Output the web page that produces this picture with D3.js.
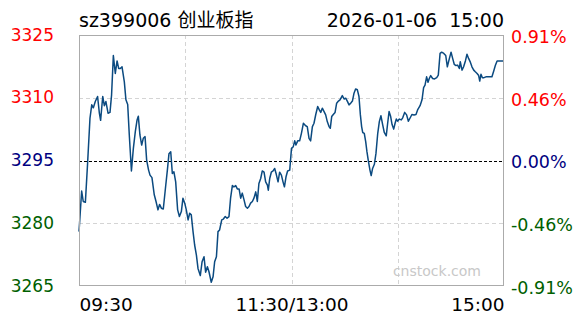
<!DOCTYPE html>
<html>
<head>
<meta charset="utf-8">
<script src="https://cdn.jsdelivr.net/npm/d3@7"></script>
<style>
    html, body { margin: 0; padding: 0; background: #fff; }
    #chart { width: 588px; height: 324px; }
</style>
</head>
<body>
<div id="chart"></div>
<script>
// Intraday chart - sz399006 创业板指, 2026-01-06

const title = 'sz399006 创业板指';
const dateLabel = '2026-01-06  15:00';
const prevClose = 3295;

// minutes since 09:30 (lunch break removed, 0..240) and index level
const minutes = [
    0, 1.5, 2.4, 3.6, 4.9, 6.2, 7.2, 8.1, 9.2, 10.5, 11.5, 12.2, 13.4, 14.3, 15.2, 16.4,
    17.5, 18.4, 19.4, 20.5, 21.5, 22.4, 23.3, 24.3, 25.6, 26.5, 27.5, 28.4, 29.6, 30.7,
    31.8, 32.8, 33.5, 34.4, 35.4, 36.3, 37.3, 38.2, 39.3, 40.1, 41.2, 42.5, 43.5, 44.6,
    45.5, 46.5, 47.6, 48.8, 49.9, 50.8, 51.8, 52.7, 53.6, 54.6, 55.7, 56.7, 57.8, 58.7,
    59.7, 60.6, 61.6, 62.5, 63.4, 64.4, 65.3, 66.3, 67.2, 68.5, 69.5, 70.6, 71.5, 72.5,
    73.4, 74.7, 75.7, 76.6, 77.6, 78.5, 79.4, 80.6, 81.5, 82.6, 83.6, 84.7, 85.6, 86.6,
    87.5, 88.5, 89.4, 90.4, 91.3, 92.2, 93.2, 94.1, 95.1, 96.0, 96.9, 97.9, 98.8, 99.8,
    100.7, 101.6, 102.6, 103.5, 104.5, 105.4, 106.4, 106.9, 107.7, 108.6, 109.6, 110.5,
    111.4, 112.4, 113.3, 114.3, 115.2, 116.0, 116.9, 117.8, 119.0, 120.0, 121.0, 121.8,
    122.5, 123.5, 124.6, 125.6, 126.7, 128.0, 128.9, 129.9, 130.8, 131.8, 132.7, 133.7,
    134.8, 135.7, 136.5, 137.4, 138.4, 139.3, 140.2, 141.2, 141.9, 142.7, 143.6, 144.6,
    145.5, 146.5, 147.4, 148.7, 149.7, 150.6, 151.5, 152.5, 153.4, 154.4, 155.3, 156.2,
    157.2, 158.1, 158.9, 159.6, 160.2, 161.1, 161.9, 162.6, 163.4, 164.3, 165.0, 165.8,
    166.8, 167.7, 168.7, 169.6, 170.5, 171.5, 172.4, 173.5, 174.3, 175.1, 176.0, 176.8,
    177.7, 178.5, 179.2, 179.9, 180.9, 182.0, 182.8, 183.9, 185.0, 186.0, 186.9, 188.0,
    189.2, 190.3, 191.2, 192.6, 193.7, 194.6, 195.4, 196.3, 197.1, 197.8, 198.6, 199.7,
    200.8, 202.0, 202.9, 203.9, 204.8, 206.0, 207.1, 208.0, 209.1, 210.1, 211.0, 211.9,
    212.9, 213.8, 214.8, 215.3, 216.3, 217.2, 218.2, 219.1, 220.0, 221.0, 221.9, 222.9,
    223.8, 224.8, 225.7, 226.3, 227.0, 227.8, 228.7, 229.8, 233.2, 234.2, 235.1, 236.1,
    237.4, 240
];
const prices = [
    3278.0, 3287.7, 3285.2, 3285.0, 3294.7, 3305.1, 3308.3, 3307.6, 3309.1, 3310.3, 3306.3, 3304.6, 3310.3, 3308.1, 3309.1, 3306.3,
    3306.5, 3310.7, 3320.1, 3315.8, 3318.8, 3317.0, 3317.0, 3317.4, 3313.8, 3309.5, 3308.4, 3301.1, 3292.5, 3297.9,
    3301.9, 3304.7, 3305.6, 3301.1, 3298.7, 3300.3, 3300.7, 3295.1, 3292.7, 3291.5, 3290.9, 3286.8, 3285.2, 3283.2,
    3284.5, 3283.6, 3283.4, 3288.3, 3292.7, 3296.6, 3297.1, 3291.9, 3292.3, 3289.9, 3283.2, 3281.6, 3282.8, 3286.0,
    3284.8, 3283.2, 3280.8, 3282.4, 3282.0, 3278.0, 3274.8, 3272.4, 3269.2, 3267.5, 3270.8, 3272.0, 3268.3, 3269.6,
    3268.4, 3265.9, 3267.2, 3270.8, 3272.0, 3278.0, 3278.4, 3280.8, 3281.0, 3281.6, 3281.2, 3281.6, 3286.0, 3289.0,
    3288.7, 3289.0, 3288.2, 3288.2, 3286.0, 3287.2, 3285.6, 3284.0, 3283.6, 3284.0, 3284.8, 3285.2, 3286.0, 3287.5,
    3285.2, 3289.5, 3290.7, 3292.5, 3292.2, 3289.9, 3289.1, 3287.9, 3290.7, 3292.2, 3292.5, 3293.1,
    3291.7, 3289.9, 3292.2, 3291.5, 3289.9, 3288.7, 3291.1, 3292.5, 3292.7, 3297.9, 3298.3, 3299.7,
    3298.7, 3299.7, 3299.7, 3301.5, 3303.9, 3303.3, 3303.1, 3300.3, 3299.7, 3303.1, 3303.9, 3306.0,
    3307.9, 3307.1, 3306.5, 3307.5, 3306.7, 3305.9, 3304.3, 3303.1, 3302.7, 3305.5, 3306.0, 3306.5,
    3308.7, 3309.2, 3309.5, 3310.5, 3309.7, 3309.9, 3309.2, 3308.3, 3308.7, 3309.2, 3311.1, 3312.1,
    3311.9, 3310.3, 3305.9, 3303.1, 3301.7, 3301.5, 3299.5, 3297.1, 3294.9, 3292.7, 3291.4, 3293.1,
    3294.1, 3296.7, 3301.5, 3304.3, 3305.7, 3303.5, 3301.7, 3300.9, 3303.9, 3306.7, 3305.5, 3303.6,
    3302.5, 3303.9, 3304.9, 3304.4, 3304.9, 3304.7, 3305.2, 3306.5, 3305.9, 3304.4, 3305.1, 3306.0,
    3305.9, 3306.0, 3307.1, 3308.1, 3309.5, 3312.4, 3313.0, 3315.0, 3313.7, 3314.6, 3315.3, 3314.6,
    3314.5, 3314.8, 3315.4, 3320.6, 3320.9, 3320.6, 3320.1, 3317.4, 3319.3, 3320.9, 3319.4, 3318.0,
    3317.7, 3317.8, 3317.0, 3318.6, 3316.6, 3317.4, 3318.8, 3320.4, 3319.4, 3318.5, 3317.4, 3316.6,
    3316.2, 3315.8, 3315.3, 3314.0, 3315.6, 3314.8, 3314.8, 3315.0, 3315.0, 3316.4, 3317.7, 3318.8,
    3318.8, 3318.8
];

// axis ticks
const priceTicks = [3265, 3280, 3295, 3310, 3325];
const pctLabels = ['-0.91%', '-0.46%', '0.00%', '0.46%', '0.91%'];
const timeTicks = [0, 60, 120, 180, 240];
const timeLabels = ['09:30', '', '11:30/13:00', '', '15:00'];

function tickColor(p) {
    if (p > prevClose) return '#ff0000';
    if (p < prevClose) return '#006000';
    return '#000080';
}

const W = 588, H = 324;
const margin = {top: 35, right: 84, bottom: 38, left: 79};
const width = W - margin.left - margin.right;
const height = H - margin.top - margin.bottom;
const font = '"DejaVu Sans", Verdana, "Noto Sans CJK SC", sans-serif';

const svg = d3.select('#chart').append('svg')
    .attr('width', W)
    .attr('height', H)
    .style('font-family', font);

const g = svg.append('g')
    .attr('transform', `translate(${margin.left},${margin.top})`);

const x = d3.scaleLinear().domain([0, 240]).range([0, width]);
const y = d3.scaleLinear().domain([3265, 3325]).range([height, 0]);

// Horizontal grid
g.append('g')
    .selectAll('line')
    .data(priceTicks.filter(p => p !== prevClose && p !== 3265 && p !== 3325))
    .enter()
    .append('line')
    .attr('x1', 0).attr('x2', width)
    .attr('y1', d => Math.round(y(d)) + 0.5)
    .attr('y2', d => Math.round(y(d)) + 0.5)
    .attr('stroke', '#d4d4d4')
    .attr('stroke-dasharray', '4,3');

// Vertical grid
g.append('g')
    .selectAll('line')
    .data(timeTicks.slice(1, -1))
    .enter()
    .append('line')
    .attr('x1', d => Math.round(x(d)) + 0.5)
    .attr('x2', d => Math.round(x(d)) + 0.5)
    .attr('y1', 0).attr('y2', height)
    .attr('stroke', '#d4d4d4')
    .attr('stroke-dasharray', '4,3');

// Previous close line
g.append('line')
    .attr('x1', 0).attr('x2', width)
    .attr('y1', Math.round(y(prevClose)) + 0.5)
    .attr('y2', Math.round(y(prevClose)) + 0.5)
    .attr('stroke', '#000')
    .attr('stroke-dasharray', '3,2');

// Watermark
g.append('text')
    .attr('x', width - 23)
    .attr('y', height - 10)
    .attr('text-anchor', 'end')
    .style('font-size', '14px')
    .style('fill', '#c8c8c8')
    .text('cnstock.com');

// Price line
const line = d3.line()
    .x((d, i) => x(minutes[i]))
    .y(d => y(d));

g.append('path')
    .datum(prices)
    .attr('fill', 'none')
    .attr('stroke', '#0b4a80')
    .attr('stroke-width', 1.5)
    .attr('stroke-linejoin', 'round')
    .attr('d', line);

// Frame
g.append('rect')
    .attr('x', 0.5).attr('y', 0.5)
    .attr('width', width - 1).attr('height', height - 1)
    .attr('fill', 'none')
    .attr('stroke', '#ababab');

// Left axis (price)
const leftAxis = g.append('g')
    .call(d3.axisLeft(y).tickValues(priceTicks).tickSize(0).tickPadding(25).tickFormat(d3.format('d')));
leftAxis.select('.domain').remove();
leftAxis.selectAll('text')
    .style('font-size', '17px')
    .style('font-family', font)
    .attr('dy', '0.3em')
    .style('fill', d => tickColor(d));

// Right axis (percent)
const rightAxis = g.append('g')
    .attr('transform', `translate(${width},0)`)
    .call(d3.axisRight(y).tickValues(priceTicks).tickSize(0).tickPadding(7)
        .tickFormat((d, i) => pctLabels[i]));
rightAxis.select('.domain').remove();
rightAxis.selectAll('text')
    .style('font-size', '17.5px')
    .style('font-family', font)
    .attr('dy', '0.42em')
    .style('fill', d => tickColor(d));

// Bottom axis (time)
const bottomAxis = g.append('g')
    .attr('transform', `translate(0,${height})`)
    .call(d3.axisBottom(x).tickValues(timeTicks).tickSize(0).tickPadding(12)
        .tickFormat((d, i) => timeLabels[i]));
bottomAxis.select('.domain').remove();
bottomAxis.selectAll('text')
    .style('font-size', '18.5px')
    .style('font-family', font)
    .style('fill', '#000')
    .attr('text-anchor', (d, i) => i === 0 ? 'start' : (i === timeTicks.length - 1 ? 'end' : 'middle'));

// Title and date
svg.append('text')
    .attr('x', margin.left)
    .attr('y', 27)
    .style('font-size', '19px')
    .style('fill', '#000')
    .text(title);

svg.append('text')
    .attr('x', margin.left + width)
    .attr('y', 27)
    .attr('text-anchor', 'end')
    .style('font-size', '19px')
    .style('fill', '#000')
    .style('white-space', 'pre')
    .text(dateLabel);
</script>
</body>
</html>
